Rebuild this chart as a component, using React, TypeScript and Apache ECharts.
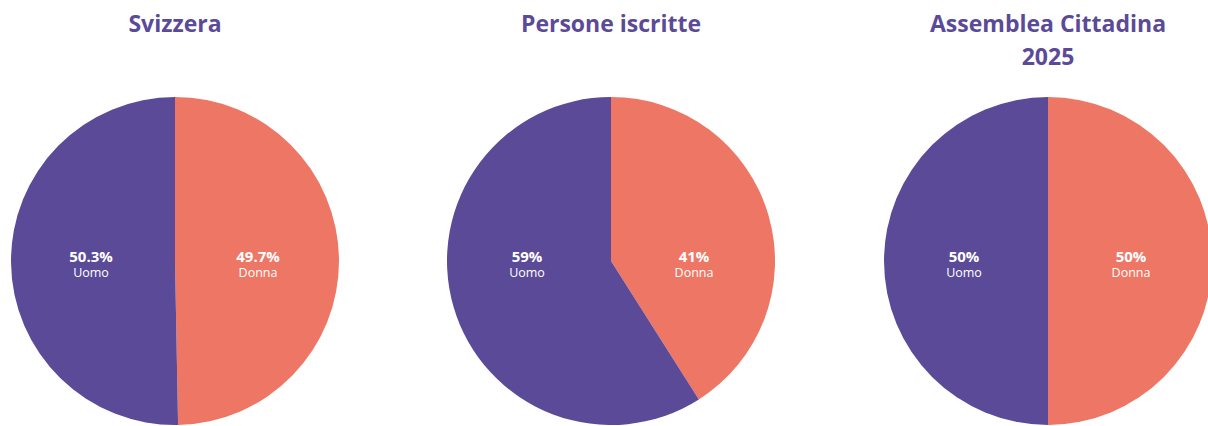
import React, { useEffect, useRef } from "react";
import * as echarts from "echarts";

const titles = ["Svizzera", "Persone iscritte", "Assemblea Cittadina\n2025"];
const categories = ["Donna", "Uomo"];
const donnaValues = [49.7, 41, 50];
const uomoValues = [50.3, 59, 50];
const centersX = [175, 611, 1048];

const PURPLE = "#5B4A98";
const CORAL = "#EE7664";
const CY = 261;
const R = 164;

export default function App() {
  const ref = useRef<HTMLDivElement>(null);
  useEffect(() => {
    document.body.style.margin = "0";
    const chart = echarts.init(ref.current!, null, { renderer: "svg" });
    const font = "'Open Sans', 'Noto Sans', sans-serif";
    const series = centersX.map((cx, i) => ({
      type: "pie",
      center: [cx, CY],
      radius: [0, R],
      startAngle: 90,
      clockwise: true,
      silent: true,
      labelLine: { show: false },
      label: {
        show: true,
        position: "inside",
        formatter: "{v|{c}%}\n{n|{b}}",
        rich: {
          v: { color: "#fff", fontSize: 15, fontWeight: "bold", fontFamily: font, lineHeight: 17, align: "center" },
          n: { color: "#fff", fontSize: 12.5, fontFamily: font, lineHeight: 16, align: "center" },
        },
      },
      labelLayout: (p: any) => ({
        x: cx + (p.dataIndex === 0 ? 83 : -84),
        y: CY + 3,
        align: "center",
        verticalAlign: "middle",
      }),
      data: [
        { name: categories[0], value: donnaValues[i], itemStyle: { color: CORAL } },
        { name: categories[1], value: uomoValues[i], itemStyle: { color: PURPLE } },
      ],
    }));
    chart.setOption({
      animation: false,
      backgroundColor: "#fff",
      title: titles.map((t, i) => ({
        text: t,
        left: centersX[i],
        top: 6,
        padding: 0,
        textAlign: "center",
        textStyle: { color: PURPLE, fontSize: 23, fontWeight: "bold", fontFamily: font, lineHeight: 33 },
      })),
      series,
    });
    return () => chart.dispose();
  }, []);
  return <div ref={ref} style={{ width: 1208, height: 426 }} />;
}
